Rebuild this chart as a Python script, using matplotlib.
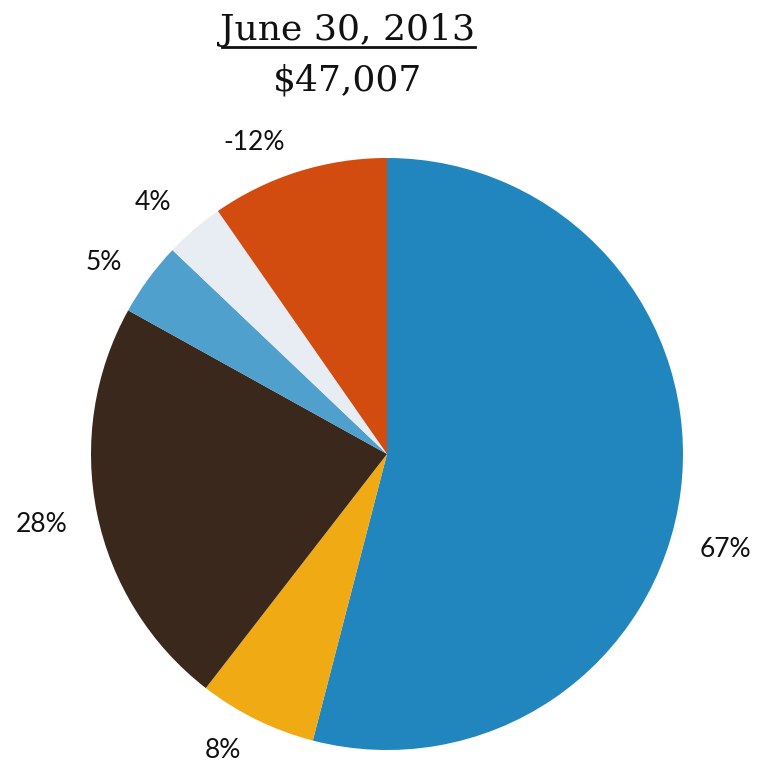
import numpy as np
import matplotlib
matplotlib.use('Agg')
import matplotlib.pyplot as plt
from matplotlib.lines import Line2D

# Composição em 30/06/2013 (percentuais, um deles negativo)
categorias = ['A', 'B', 'C', 'D', 'E', 'F']
valores = [67, 8, 28, 5, 4, -12]
cores = ['#2186BE', '#F0AA14', '#3A281C', '#50A0CD', '#E8ECF3', '#D24B0F']
titulo = 'June 30, 2013'
subtitulo = '$47,007'

W, H = 761, 768
fig = plt.figure(figsize=(W / 100, H / 100), dpi=100, facecolor='white')

# eixo quadrado: raio da pizza ~296 px, centro em (387, 454) a partir do topo
raio_px = 296
lim = 1.25
lado = 2 * lim * raio_px
cx, cy = 387, H - 454
ax = fig.add_axes([(cx - lado / 2) / W, (cy - lado / 2) / H, lado / W, lado / H])

rotulos = [f'{v}%' for v in valores]
wedges, texts = ax.pie(
    np.abs(valores),
    labels=rotulos,
    colors=cores,
    startangle=90,
    counterclock=False,
    labeldistance=1.16,
    textprops={'fontsize': 19, 'family': 'Lato', 'color': '#111111'},
    wedgeprops={'linewidth': 0},
)

# posição de cada rótulo: ângulo em graus e distância em raios
pos_rotulos = [(-15.8, 1.19), (-118.9, 1.145), (191.6, 1.19),
               (146, 1.155), (133, 1.16), (113, 1.145)]
for t, (a, d) in zip(texts, pos_rotulos):
    ang = np.deg2rad(a)
    t.set_position((d * np.cos(ang), d * np.sin(ang)))
    t.set_ha('center')
    t.set_va('center')

ax.set_xlim(-lim, lim)
ax.set_ylim(-lim, lim)
ax.axis('off')

# título sublinhado e valor total
tx = 348 / W
fig.text(tx, 1 - 30 / H, titulo, ha='center', va='center',
         fontsize=26, family='DejaVu Serif', color='#111111')
fig.text(tx, 1 - 80 / H, subtitulo, ha='center', va='center',
         fontsize=26, family='DejaVu Serif', color='#111111')
fig.add_artist(Line2D([222 / W, 475 / W], [1 - 47 / H, 1 - 47 / H],
                      transform=fig.transFigure, color='#111111', linewidth=2))

fig.savefig('out.png', dpi=100, facecolor='white')
